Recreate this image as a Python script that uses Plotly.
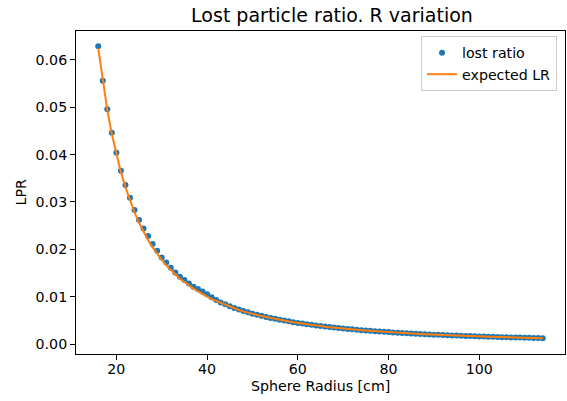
import plotly.graph_objects as go

radius_cm = list(range(16, 115))

lost_ratio = [
    0.0629, 0.0556, 0.0496, 0.0446, 0.0404, 0.0366, 0.0336, 0.0309, 0.0283, 0.0262,
    0.0244, 0.0228, 0.0211, 0.0197, 0.0183, 0.0172, 0.0161, 0.0151, 0.0142, 0.0135,
    0.0128, 0.0121, 0.0116, 0.0111, 0.0105, 0.0099, 0.0093, 0.0088, 0.0084, 0.0080,
    0.0076, 0.0073, 0.0070, 0.0067, 0.0064, 0.00619, 0.00595, 0.00573, 0.00552, 0.00532,
    0.00513, 0.00496, 0.00479, 0.00463, 0.00447, 0.00433, 0.00419, 0.00406, 0.00393, 0.00381,
    0.00370, 0.00359, 0.00348, 0.00338, 0.00329, 0.00319, 0.00311, 0.00302, 0.00294, 0.00286,
    0.00279, 0.00272, 0.00265, 0.00258, 0.00252, 0.00245, 0.00239, 0.00234, 0.00228, 0.00223,
    0.00218, 0.00213, 0.00208, 0.00203, 0.00199, 0.00194, 0.00190, 0.00186, 0.00182, 0.00178,
    0.00175, 0.00171, 0.00168, 0.00164, 0.00161, 0.00158, 0.00155, 0.00152, 0.00149, 0.00146,
    0.00143, 0.00141, 0.00138, 0.00136, 0.00133, 0.00131, 0.00129, 0.00127, 0.00125,
]

expected_lr = [
    0.0625, 0.0554, 0.0494, 0.0443, 0.0400, 0.0363, 0.0331, 0.0302, 0.0278, 0.0256,
    0.0237, 0.0219, 0.0204, 0.0190, 0.0178, 0.0166, 0.0156, 0.0147, 0.0138, 0.0131,
    0.0123, 0.0117, 0.0111, 0.0105, 0.0100, 0.0095, 0.0091, 0.0087, 0.0083, 0.0079,
    0.0076, 0.0072, 0.0069, 0.0067, 0.0064, 0.00615, 0.00592, 0.00570, 0.00549, 0.00529,
    0.00510, 0.00492, 0.00476, 0.00460, 0.00444, 0.00430, 0.00416, 0.00403, 0.00391, 0.00379,
    0.00367, 0.00356, 0.00346, 0.00336, 0.00327, 0.00317, 0.00309, 0.00300, 0.00292, 0.00284,
    0.00277, 0.00270, 0.00263, 0.00256, 0.00250, 0.00244, 0.00238, 0.00232, 0.00227, 0.00221,
    0.00216, 0.00211, 0.00207, 0.00202, 0.00198, 0.00193, 0.00189, 0.00185, 0.00181, 0.00177,
    0.00174, 0.00170, 0.00167, 0.00163, 0.00160, 0.00157, 0.00154, 0.00151, 0.00148, 0.00145,
    0.00142, 0.00140, 0.00137, 0.00135, 0.00132, 0.00130, 0.00128, 0.00125, 0.00123,
]

x_ticks = [20, 40, 60, 80, 100]
y_ticks = [0.00, 0.01, 0.02, 0.03, 0.04, 0.05, 0.06]

FONT = "DejaVu Sans"
TXT = 14.2

W, H = 567, 401
ML, MR, MT, MB = 76, 2, 31, 47
plot_w = W - ML - MR
plot_h = H - MT - MB

fig = go.Figure()
fig.add_trace(go.Scatter(
    x=radius_cm, y=lost_ratio, mode="markers", name="lost ratio",
    marker=dict(color="#1f77b4", size=6, line=dict(width=0)),
))
fig.add_trace(go.Scatter(
    x=radius_cm, y=expected_lr, mode="lines", name="expected LR",
    line=dict(color="#ff7f0e", width=2),
))

axis_common = dict(
    showgrid=False, zeroline=False, showline=True, linecolor="black", linewidth=1,
    mirror=True, ticks="outside", ticklen=5, tickwidth=1, tickcolor="black",
    tickfont=dict(family=FONT, size=TXT, color="black"), automargin=False,
)

fig.update_layout(
    width=W, height=H,
    margin=dict(l=ML, r=MR, t=MT, b=MB, autoexpand=False),
    paper_bgcolor="white", plot_bgcolor="white",
    font=dict(family=FONT, size=TXT, color="black"),
    title=dict(text="Lost particle ratio. R variation", x=332 / W, xanchor="center",
               xref="container", y=1 - 15 / H, yref="container", yanchor="middle",
               font=dict(family=FONT, size=19, color="black")),
    xaxis=dict(range=[11.1, 118.9], tickvals=x_ticks, ticktext=[str(v) for v in x_ticks],
               ticklabelstandoff=-3, **axis_common),
    yaxis=dict(range=[-0.0021, 0.0661], tickvals=y_ticks, ticktext=[f"{v:.2f}" for v in y_ticks], **axis_common),
    showlegend=True,
    legend=dict(x=(557 - ML) / plot_w, y=1 - (36 - MT) / plot_h, xanchor="right", yanchor="top",
                bgcolor="rgba(255,255,255,0.8)", bordercolor="#cccccc", borderwidth=1,
                font=dict(family=FONT, size=TXT, color="black"),
                tracegroupgap=0, itemwidth=30),
    annotations=[
        dict(text="Sphere Radius [cm]", x=0.5, xref="paper", xanchor="center",
             y=(H - MB - 386) / plot_h, yref="paper", yanchor="middle",
             showarrow=False, font=dict(family=FONT, size=TXT, color="black")),
        dict(text="LPR", x=(20 - ML) / plot_w, xref="paper", xanchor="center",
             y=0.5, yref="paper", yanchor="middle", showarrow=False, textangle=-90,
             font=dict(family=FONT, size=TXT, color="black")),
    ],
)

fig.write_html("out.html", config={"displayModeBar": False},
               post_script="document.body.style.margin='0';")
